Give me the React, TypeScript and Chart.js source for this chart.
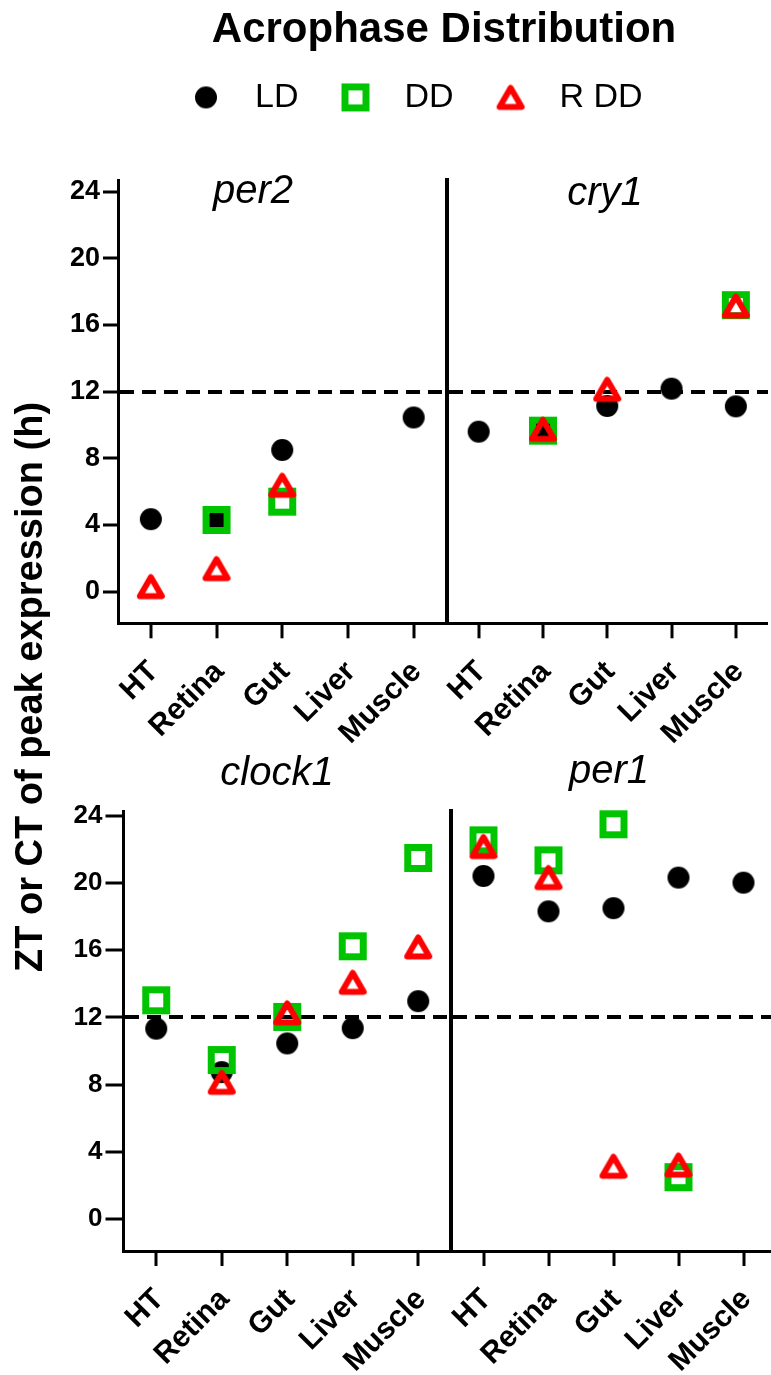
import React, { useEffect, useRef } from 'react';
import { Chart, registerables } from 'chart.js';

Chart.register(...registerables);

const FONT = "'Liberation Sans', Arial, Helvetica, sans-serif";
Chart.defaults.font.family = FONT;
Chart.defaults.color = '#000';

// ---------- text ----------
const TITLE = 'Acrophase Distribution';
const Y_TITLE = 'ZT or CT of peak expression (h)';
const SERIES = ['LD', 'DD', 'R DD'];
const TISSUES = ['HT', 'Retina', 'Gut', 'Liver', 'Muscle'];
const Y_TICKS = [0, 4, 8, 12, 16, 20, 24];
const REF_LINE = 12;

// ---------- data (acrophase, h) ----------
const per2LD = [4.35, 4.3, 8.5, null, 10.45];
const per2DD = [null, 4.3, 5.4, null, null];
const per2RDD = [0.3, 1.38, 6.38, null, null];

const cry1LD = [9.6, 9.6, 11.14, 12.18, 11.12];
const cry1DD = [null, 9.66, null, null, 17.19];
const cry1RDD = [null, 9.74, 12.14, null, 17.14];

const clock1LD = [11.33, 8.74, 10.45, 11.36, 12.97];
const clock1DD = [13.02, 9.46, 12.03, 16.24, 21.5];
const clock1RDD = [null, 8.13, 12.27, 14.09, 16.2];

const per1LD = [20.43, 18.32, 18.51, 20.33, 20.03];
const per1DD = [22.55, 21.36, 23.51, 2.48, null];
const per1RDD = [22.18, 20.33, 3.13, 3.2, null];

// ---------- styles ----------
const BLACK = '#000000';
const GREEN = '#00c400';
const RED = '#ff0000';

function makeMarker(kind: 'circle' | 'square' | 'triangle'): HTMLCanvasElement {
  const c = document.createElement('canvas');
  const g = c.getContext('2d') as CanvasRenderingContext2D;
  if (kind === 'circle') {
    c.width = 24; c.height = 24;
    g.fillStyle = BLACK;
    g.beginPath(); g.arc(12, 12, 11, 0, Math.PI * 2); g.fill();
  } else if (kind === 'square') {
    c.width = 30; c.height = 30;
    g.strokeStyle = GREEN; g.lineWidth = 7; g.lineJoin = 'miter';
    g.strokeRect(4.5, 4.5, 21, 21);
  } else {
    c.width = 32; c.height = 32;
    g.strokeStyle = RED; g.lineWidth = 6; g.lineJoin = 'round';
    g.beginPath(); g.moveTo(16, 6.5); g.lineTo(27, 25.5); g.lineTo(5, 25.5); g.closePath(); g.stroke();
  }
  return c;
}

// ---------- layout ----------
type Box = { left: number; top: number; width: number; height: number };
const HEADER_BOX: Box = { left: 0, top: 0, width: 771, height: 140 };
const YTITLE_BOX: Box = { left: 0, top: 0, width: 80, height: 1375 };

type Panel = {
  title: string;
  ld: (number | null)[]; dd: (number | null)[]; rdd: (number | null)[];
  yLabels: boolean;
  left: number; top: number; height: number; padL: number;
  area: { left: number; right: number; top: number; bottom: number };
  min: number; max: number;
  titleX: number; titleMid: number;
  yTickLen: number; yFont: number;
};

const PANELS: Panel[] = [
  { title: 'per2', ld: per2LD, dd: per2DD, rdd: per2RDD, yLabels: true,
    left: 0, top: 130, height: 640, padL: 40,
    area: { left: 118, right: 446.5, top: 180, bottom: 623.3 },
    min: -1.9, max: 24.7, titleX: 253, titleMid: 192, yTickLen: 15, yFont: 27 },
  { title: 'cry1', ld: cry1LD, dd: cry1DD, rdd: cry1RDD, yLabels: false,
    left: 420, top: 130, height: 640, padL: 10,
    area: { left: 446.5, right: 775, top: 180, bottom: 623.3 },
    min: -1.9, max: 24.7, titleX: 605, titleMid: 194, yTickLen: 15, yFont: 27 },
  { title: 'clock1', ld: clock1LD, dd: clock1DD, rdd: clock1RDD, yLabels: true,
    left: 0, top: 720, height: 655, padL: 40,
    area: { left: 123.5, right: 451, top: 811, bottom: 1251 },
    min: -1.92, max: 24.3, titleX: 277, titleMid: 773.5, yTickLen: 18, yFont: 26 },
  { title: 'per1', ld: per1LD, dd: per1DD, rdd: per1RDD, yLabels: false,
    left: 420, top: 720, height: 655, padL: 10,
    area: { left: 451, right: 778, top: 811, bottom: 1251 },
    min: -1.92, max: 24.3, titleX: 609, titleMid: 771.5, yTickLen: 18, yFont: 26 },
];

const PANEL_TITLE_SIZE = 40;
const X_TICK_SIZE = 30;

function panelGeometry(p: Panel) {
  const localLeft = p.area.left - p.left;
  const localRight = p.area.right - p.left;
  const rightW = Math.max(0, 2 * (p.titleX - p.left) - p.padL - localRight);
  const width = Math.ceil(localRight + rightW);
  const padR = width - localRight - rightW;
  const yWidth = localLeft - p.padL;
  const lh = PANEL_TITLE_SIZE * 1.2;
  const pt = (p.titleMid - p.top) - lh / 2;
  const pb = (p.area.top - p.top) - lh - pt;
  const xHeight = p.top + p.height - p.area.bottom;
  return { width, padR, rightW, yWidth, pt, pb, xHeight };
}

function panelConfig(p: Panel, m: Record<string, HTMLCanvasElement>): any {
  const G = panelGeometry(p);
  const common = { showLine: false, pointRadius: 12, pointHoverRadius: 12, clip: false, borderWidth: 0 };
  return {
    type: 'line',
    data: {
      labels: TISSUES,
      datasets: [
        { label: SERIES[0], data: p.ld, pointStyle: m.circle, order: 2, ...common },
        { label: SERIES[1], data: p.dd, pointStyle: m.square, order: 1, ...common },
        { label: SERIES[2], data: p.rdd, pointStyle: m.triangle, order: 0, ...common },
      ],
    },
    options: {
      animation: false,
      responsive: true,
      maintainAspectRatio: false,
      events: [],
      layout: { padding: { left: p.padL, right: G.padR, top: 0, bottom: 0 } },
      plugins: {
        legend: { display: false },
        tooltip: { enabled: false },
        title: {
          display: true, text: p.title, color: BLACK,
          font: { size: PANEL_TITLE_SIZE, style: 'italic', weight: 'normal' },
          padding: { top: G.pt, bottom: G.pb },
        },
      },
      scales: {
        x: {
          type: 'category',
          offset: true,
          afterFit: (s: any) => { s.height = G.xHeight; },
          grid: { display: true, offset: false, drawOnChartArea: false, drawTicks: true,
            tickLength: 15, tickWidth: 3, tickColor: BLACK, lineWidth: 0 },
          border: { display: true, width: 3, color: BLACK },
          ticks: { autoSkip: false, minRotation: 45, maxRotation: 45, padding: 16, labelOffset: 3,
            color: BLACK, font: { size: X_TICK_SIZE, weight: 'bold' } },
        },
        y: {
          type: 'linear',
          position: 'left',
          min: p.min,
          max: p.max,
          afterBuildTicks: (s: any) => { s.ticks = Y_TICKS.map((v) => ({ value: v })); },
          afterFit: (s: any) => { s.width = G.yWidth; },
          ticks: { display: p.yLabels, padding: 3, color: BLACK, font: { size: p.yFont, weight: 'bold' } },
          grid: {
            display: true, drawOnChartArea: true, drawTicks: p.yLabels,
            tickLength: p.yTickLen, tickWidth: 3, tickColor: BLACK,
            color: (c: any) => (c.tick && c.tick.value === REF_LINE ? BLACK : 'rgba(0,0,0,0)'),
            lineWidth: (c: any) => (c.tick && c.tick.value === REF_LINE ? 4 : 0),
          },
          border: { display: true, width: p.yLabels ? 3 : 4, color: BLACK, dash: [14, 8] },
        },
        yRight: {
          type: 'linear',
          position: 'right',
          display: true,
          min: 0, max: 1,
          afterFit: (s: any) => { s.width = G.rightW; },
          ticks: { display: false },
          grid: { display: false },
          border: { display: false },
        },
      },
    },
  };
}

function headerConfig(m: Record<string, HTMLCanvasElement>): any {
  return {
    type: 'line',
    data: {
      labels: [],
      datasets: [
        { label: SERIES[0], data: [], pointStyle: m.circle, borderWidth: 0 },
        { label: SERIES[1], data: [], pointStyle: m.square, borderWidth: 0 },
        { label: SERIES[2], data: [], pointStyle: m.triangle, borderWidth: 0 },
      ],
    },
    options: {
      animation: false,
      responsive: true,
      maintainAspectRatio: false,
      events: [],
      layout: { padding: { left: 149, right: 32, top: 0, bottom: 0 } },
      plugins: {
        tooltip: { enabled: false },
        title: { display: true, text: TITLE, color: BLACK, font: { size: 42, weight: 'bold' },
          padding: { top: 5, bottom: 0 } },
        legend: {
          display: true, position: 'top', align: 'start',
          labels: { usePointStyle: true, pointStyleWidth: 64, padding: 25, color: BLACK,
            font: { size: 34, weight: 'normal' } },
        },
      },
      scales: { x: { display: false }, y: { display: false } },
    },
  };
}

function yTitleConfig(): any {
  return {
    type: 'line',
    data: { labels: [], datasets: [] },
    options: {
      animation: false,
      responsive: true,
      maintainAspectRatio: false,
      events: [],
      layout: { padding: { top: 300, bottom: 301, left: 0, right: 0 } },
      plugins: { legend: { display: false }, title: { display: false }, tooltip: { enabled: false } },
      scales: {
        x: { display: false },
        y: {
          display: true, min: 0, max: 1,
          ticks: { display: false },
          grid: { display: false },
          border: { display: false },
          title: { display: true, text: Y_TITLE, color: BLACK, font: { size: 38, weight: 'bold' },
            padding: { top: 9, bottom: 0 } },
        },
      },
    },
  };
}

const BOXES: Box[] = [
  YTITLE_BOX,
  HEADER_BOX,
  ...PANELS.map((p) => ({ left: p.left, top: p.top, width: panelGeometry(p).width, height: p.height })),
];

export default function App() {
  const refs = useRef<(HTMLCanvasElement | null)[]>([]);

  useEffect(() => {
    const markers = {
      circle: makeMarker('circle'),
      square: makeMarker('square'),
      triangle: makeMarker('triangle'),
    };
    const charts: Chart[] = [];
    const c = refs.current;
    if (c[0]) charts.push(new Chart(c[0], yTitleConfig()));
    if (c[1]) charts.push(new Chart(c[1], headerConfig(markers)));
    PANELS.forEach((p, i) => {
      const el = c[i + 2];
      if (el) charts.push(new Chart(el, panelConfig(p, markers)));
    });
    return () => { charts.forEach((ch) => ch.destroy()); };
  }, []);

  return (
    <div style={{ position: 'absolute', left: 0, top: 0, width: 771, height: 1375, overflow: 'hidden', background: '#fff' }}>
      {BOXES.map((b, i) => (
        <div key={i} style={{ position: 'absolute', left: b.left, top: b.top, width: b.width, height: b.height }}>
          <canvas ref={(el) => { refs.current[i] = el; }} />
        </div>
      ))}
    </div>
  );
}
